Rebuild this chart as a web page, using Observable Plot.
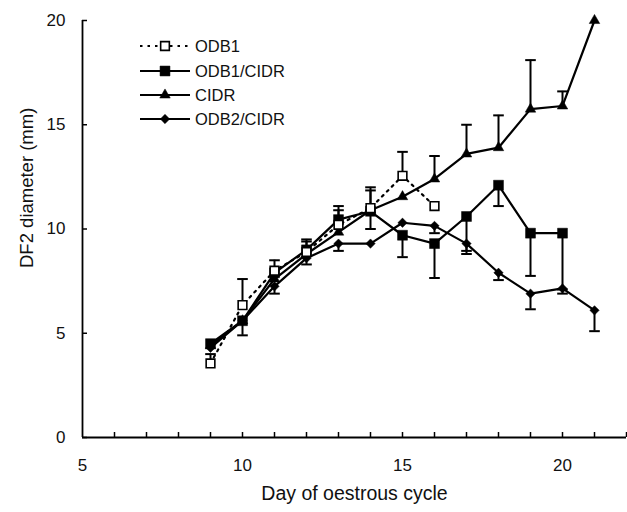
<!DOCTYPE html>
<html><head><meta charset="utf-8">
<script src="https://cdn.jsdelivr.net/npm/d3@7"></script>
<script src="https://cdn.jsdelivr.net/npm/@observablehq/plot@0.6"></script>
<style>
body{margin:0;background:#fff;}
#wrap{position:relative;width:627px;height:512px;font-family:"Liberation Sans",Arial,Helvetica,sans-serif;}
#legend{position:absolute;left:0;top:0;}
</style></head><body><div id="wrap"></div>
<script>
// ---- data ----
const seriesNames = ["ODB1", "ODB1/CIDR", "CIDR", "ODB2/CIDR"];

const odb1Days   = [9, 10, 11, 12, 13, 14, 15, 16];
const odb1Values = [3.55, 6.35, 8.0, 8.9, 10.2, 11.0, 12.55, 11.1];
const odb1Err    = [4.0, 7.6, 8.5, 9.5, 11.1, 12.0, 13.7, null];

const odb1cidrDays   = [9, 10, 11, 12, 13, 14, 15, 16, 17, 18, 19, 20];
const odb1cidrValues = [4.5, 5.6, 7.9, 9.0, 10.45, 10.85, 9.7, 9.3, 10.6, 12.1, 9.8, 9.8];
const odb1cidrErr    = [null, 4.9, null, 8.3, null, 10.0, 8.65, 7.65, 8.95, 11.1, 7.75, 7.1];

const cidrDays   = [9, 10, 11, 12, 13, 14, 15, 16, 17, 18, 19, 20, 21];
const cidrValues = [4.4, 5.6, 7.6, 8.8, 9.85, 10.9, 11.55, 12.4, 13.6, 13.9, 15.75, 15.9, 20.0];
const cidrErr    = [null, null, null, 9.4, 10.9, 11.85, null, 13.5, 15.0, 15.45, 18.1, 16.6, null];

const odb2cidrDays   = [9, 10, 11, 12, 13, 14, 15, 16, 17, 18, 19, 20, 21];
const odb2cidrValues = [4.3, 5.6, 7.25, 8.6, 9.3, 9.3, 10.3, 10.15, 9.3, 7.9, 6.9, 7.15, 6.1];
const odb2cidrErr    = [null, null, 6.9, null, 8.95, null, null, 9.8, 8.8, 7.55, 6.15, 6.9, 5.1];

const xTickLabels = [5, 10, 15, 20];
const xMinorTicks = [6, 7, 8, 9, 10, 11, 12, 13, 14, 15, 16, 17, 18, 19, 20, 21, 22];
const yTickLabels = [0, 5, 10, 15, 20];
const xTitle = "Day of oestrous cycle";
const yTitle = "DF2 diameter (mm)";

// ---- build tables ----
const styles = {
  "ODB1":      {symbol: d3.symbolSquare,   fill: "white", r: 4.9, dash: "2,5"},
  "ODB1/CIDR": {symbol: d3.symbolSquare,   fill: "black", r: 5.6, dash: null},
  "CIDR":      {symbol: d3.symbolTriangle, fill: "black", r: 3.9, dash: null},
  "ODB2/CIDR": {symbol: d3.symbolDiamond2, fill: "black", r: 4.2, dash: null}
};
const raw = [
  [odb1Days, odb1Values, odb1Err],
  [odb1cidrDays, odb1cidrValues, odb1cidrErr],
  [cidrDays, cidrValues, cidrErr],
  [odb2cidrDays, odb2cidrValues, odb2cidrErr]
];
const rows = [];
seriesNames.forEach((name, s) => {
  const [ds, vs, es] = raw[s];
  ds.forEach((d, i) => rows.push({name, day: d, value: vs[i], err: es[i]}));
});
const errRows = rows.filter(r => r.err != null);

const capSymbol = {draw(ctx, size) { const w = Math.sqrt(size / Math.PI); ctx.moveTo(-w, 0); ctx.lineTo(w, 0); }};

const marks = [
  Plot.ruleY([0], {stroke: "black", strokeWidth: 1.8}),
  Plot.ruleX([5], {stroke: "black", strokeWidth: 1.8}),
  Plot.axisX(xMinorTicks, {tickSize: -5, tickFormat: () => "", label: null, strokeWidth: 1.5}),
  Plot.axisX(xTickLabels, {tickSize: 0, tickPadding: 21, label: null, fontSize: 17, fill: "#111"}),
  Plot.axisY(yTickLabels, {tickSize: -5, tickFormat: () => "", label: null, strokeWidth: 1.5}),
  Plot.axisY(yTickLabels, {tickSize: 0, tickPadding: 17, label: null, fontSize: 17, fill: "#111"}),
  Plot.text([xTitle], {frameAnchor: "bottom", dy: 62, fontSize: 19.5, fill: "#111"}),
  Plot.text([yTitle], {frameAnchor: "left", dx: -55, dy: 39, rotate: -90, fontSize: 18.5, fill: "#111"})
];
seriesNames.forEach(name => {
  const st = styles[name];
  marks.push(Plot.line(rows.filter(r => r.name === name), {x: "day", y: "value", stroke: "black", strokeWidth: 2.2, strokeDasharray: st.dash}));
});
marks.push(Plot.ruleX(errRows, {x: "day", y1: "value", y2: "err", stroke: "black", strokeWidth: 2}));
marks.push(Plot.dot(errRows, {x: "day", y: "err", symbol: capSymbol, r: 5.3, stroke: "black", strokeWidth: 2}));
seriesNames.slice().reverse().forEach(name => {
  const st = styles[name];
  marks.push(Plot.dot(rows.filter(r => r.name === name), {x: "day", y: "value", symbol: st.symbol, r: st.r,
    fill: st.fill, stroke: "black", strokeWidth: st.fill === "white" ? 1.6 : 0.5}));
});

const chart = Plot.plot({
  width: 627, height: 512,
  marginLeft: 82, marginRight: 1, marginTop: 20, marginBottom: 75,
  style: {fontFamily: '"Liberation Sans", Arial, Helvetica, sans-serif', fontSize: "16px", background: "white"},
  x: {domain: [5, 22], axis: null},
  y: {domain: [0, 20], axis: null},
  marks
});
const wrap = document.getElementById("wrap");
wrap.appendChild(chart);

// ---- legend (overlay) ----
const leg = d3.select(wrap).append("svg").attr("id", "legend").attr("width", 627).attr("height", 160);
const rowY = [46, 71, 95, 119];
seriesNames.forEach((name, i) => {
  const st = styles[name];
  const g = leg.append("g").attr("transform", `translate(0,${rowY[i]})`);
  g.append("line").attr("x1", 140).attr("x2", 190).attr("y1", 0).attr("y2", 0)
    .attr("stroke", "black").attr("stroke-width", 2).attr("stroke-dasharray", st.dash ? "2.5,5" : null);
  g.append("path").attr("transform", "translate(165,0)")
    .attr("d", d3.symbol(st.symbol, Math.PI * st.r * st.r)())
    .attr("fill", st.fill).attr("stroke", "black").attr("stroke-width", st.fill === "white" ? 1.6 : 0.5);
  g.append("text").attr("x", 195).attr("y", 6).attr("font-size", 16.5).attr("fill", "#111").text(name);
});
</script></body></html>
